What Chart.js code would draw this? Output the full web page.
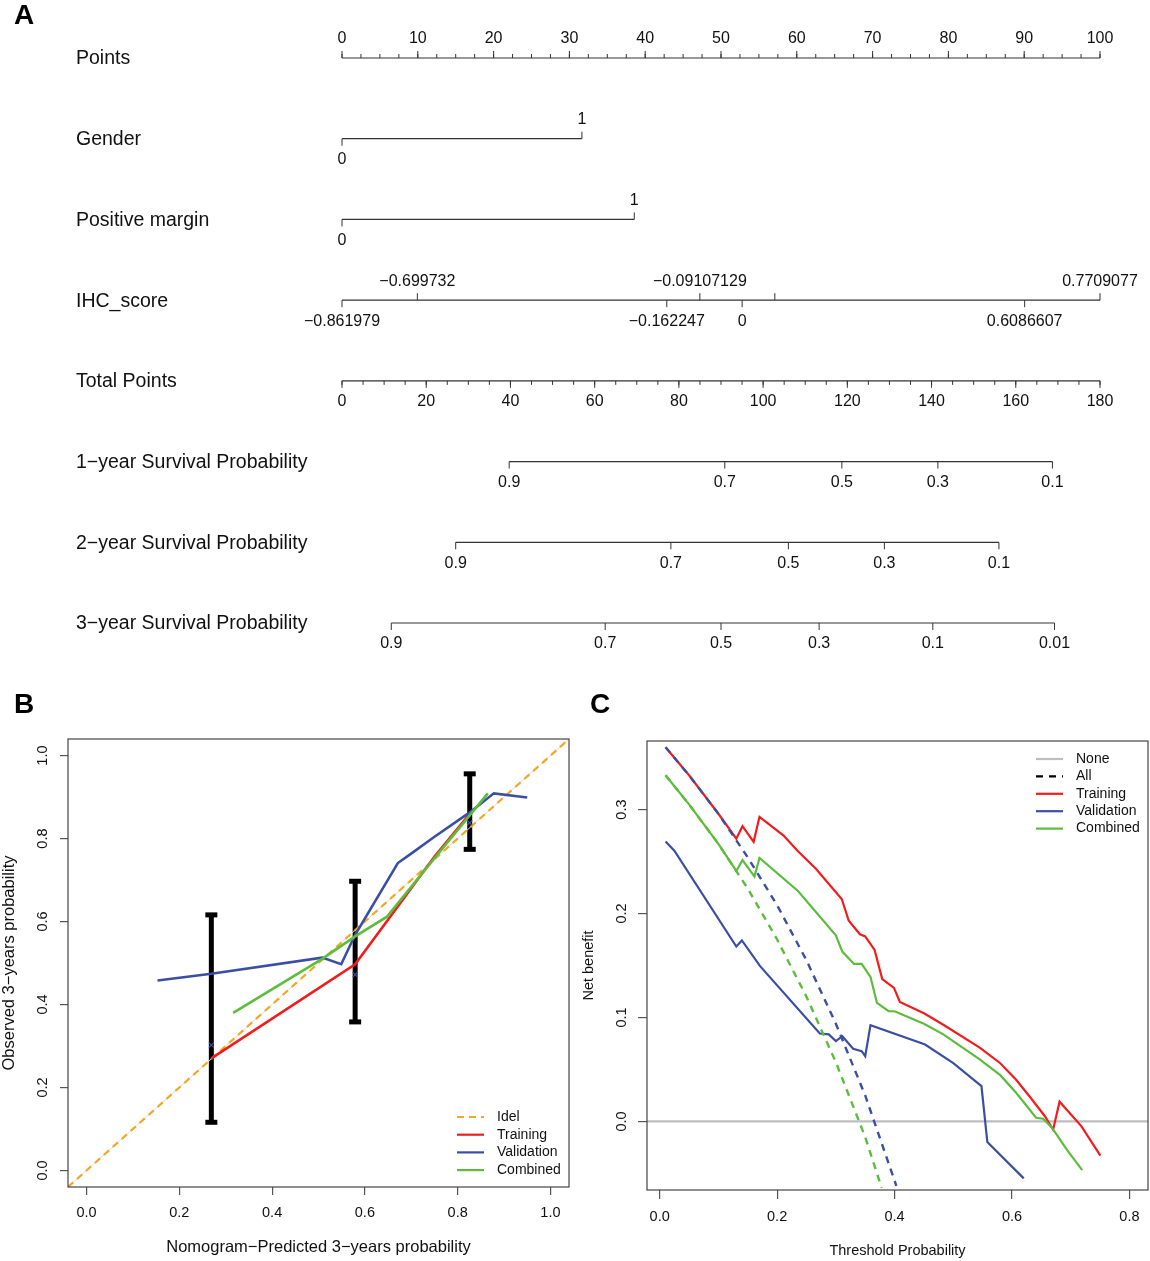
<!DOCTYPE html>
<html>
<head>
<meta charset="utf-8">
<script src="https://cdn.jsdelivr.net/npm/chart.js@4.4.1/dist/chart.umd.min.js"></script>
<style>
  body { margin: 0; background: #fff; }
  .panel { position: absolute; }
</style>
</head>
<body>
<div class="panel" style="left:0;top:0;width:1150px;height:680px"><canvas id="nomo"></canvas></div>
<div class="panel" style="left:0;top:690px;width:580px;height:571px"><canvas id="calib"></canvas></div>
<div class="panel" style="left:580px;top:690px;width:570px;height:571px"><canvas id="dca"></canvas></div>
<script>
const SANS = '"Liberation Sans", Arial, Helvetica, sans-serif';

// ---- panel A: nomogram ----
const rowNames = ['Points', 'Gender', 'Positive margin', 'IHC_score', 'Total Points',
  '1−year Survival Probability', '2−year Survival Probability', '3−year Survival Probability'];
const pointsTicks = [0, 10, 20, 30, 40, 50, 60, 70, 80, 90, 100];
const genderLabels = ['0', '1'];
const genderPoints = [0, 31.65];
const marginLabels = ['0', '1'];
const marginPoints = [0, 38.56];
const ihcLabels = ['−0.861979', '−0.699732', '−0.162247', '−0.09107129', '0', '', '0.6086607', '0.7709077'];
const ihcPoints = [0, 9.94, 42.85, 47.21, 52.79, 57.1, 90.06, 100];
const ihcSides = ['down', 'up', 'down', 'up', 'down', 'up', 'down', 'up'];
const totalTicks = [0, 20, 40, 60, 80, 100, 120, 140, 160, 180];
const surv1Labels = ['0.9', '0.7', '0.5', '0.3', '0.1'];
const surv1Total = [39.7, 90.9, 118.7, 141.5, 168.7];
const surv2Labels = ['0.9', '0.7', '0.5', '0.3', '0.1'];
const surv2Total = [27.0, 78.1, 106.0, 128.8, 156.0];
const surv3Labels = ['0.9', '0.7', '0.5', '0.3', '0.1', '0.01'];
const surv3Total = [11.7, 62.5, 90.0, 113.3, 140.3, 169.2];

// ---- panel B: calibration ----
const calibTicks = [0, 0.2, 0.4, 0.6, 0.8, 1.0];
const idealX = [-0.04, 1.04];
const trainPredB = [0.269, 0.579, 0.655, 0.751, 0.830];
const trainObsB = [0.270, 0.497, 0.612, 0.758, 0.865];
const validPredB = [0.153, 0.269, 0.508, 0.549, 0.579, 0.671, 0.699, 0.747, 0.826, 0.878, 0.950];
const validObsB = [0.458, 0.474, 0.513, 0.497, 0.568, 0.741, 0.763, 0.802, 0.863, 0.909, 0.899];
const combPredB = [0.316, 0.508, 0.579, 0.647, 0.751, 0.865];
const combObsB = [0.380, 0.510, 0.564, 0.611, 0.754, 0.909];
const errX = [0.269, 0.579, 0.826];
const errLow = [0.116, 0.358, 0.774];
const errHigh = [0.616, 0.697, 0.956];
const errMid = [0.302, 0.472, 0.838];

// ---- panel C: decision curves ----
const dcaXTicks = [0, 0.2, 0.4, 0.6, 0.8];
const dcaYTicks = [0, 0.1, 0.2, 0.3];
const noneY = [0, 0];
const trainThr = [0.01, 0.05, 0.10, 0.1305, 0.141, 0.160, 0.170, 0.211, 0.2355, 0.266, 0.310, 0.322, 0.341,
  0.350, 0.366, 0.379, 0.399, 0.409, 0.45, 0.483, 0.545, 0.58, 0.607, 0.63, 0.656, 0.670, 0.681, 0.718, 0.7505];
const trainNB = [0.360, 0.333, 0.296, 0.272, 0.284, 0.269, 0.293, 0.275, 0.260, 0.243, 0.214, 0.193, 0.180,
  0.178, 0.165, 0.137, 0.1285, 0.115, 0.104, 0.093, 0.071, 0.056, 0.040, 0.024, 0.005, -0.008, 0.019, -0.0045, -0.033];
const validThr = [0.01, 0.025, 0.1305, 0.140, 0.171, 0.2727, 0.288, 0.300, 0.311, 0.3295, 0.344, 0.350, 0.359,
  0.452, 0.50, 0.548, 0.558, 0.620];
const validNB = [0.2693, 0.2605, 0.1683, 0.1741, 0.1494, 0.0846, 0.0837, 0.0772, 0.082, 0.0699, 0.0676, 0.0628, 0.0926,
  0.074, 0.056, 0.034, -0.0199, -0.0548];
const combThr = [0.01, 0.05, 0.10, 0.1305, 0.141, 0.1614, 0.170, 0.2355, 0.300, 0.311, 0.331, 0.344, 0.359, 0.370,
  0.390, 0.400, 0.45, 0.483, 0.545, 0.58, 0.607, 0.641, 0.653, 0.668, 0.693, 0.7196];
const combNB = [0.333, 0.305, 0.267, 0.241, 0.2515, 0.2356, 0.2534, 0.2217, 0.179, 0.1634, 0.1515, 0.1515, 0.139, 0.114,
  0.106, 0.106, 0.094, 0.0837, 0.0596, 0.0445, 0.0276, 0.0035, 0.0026, -0.006, -0.027, -0.0468];
const allValidThr = [0.01, 0.05, 0.10, 0.15, 0.20, 0.25, 0.30, 0.35, 0.40, 0.403];
const allValidNB = [0.360, 0.333, 0.296, 0.254, 0.208, 0.155, 0.094, 0.025, -0.057, -0.062];
const allCombThr = [0.01, 0.05, 0.10, 0.15, 0.20, 0.25, 0.30, 0.35, 0.378];
const allCombNB = [0.333, 0.305, 0.267, 0.224, 0.175, 0.120, 0.057, -0.015, -0.064];

const RED = '#f21c1c', BLUE = '#3a4fa3', GREEN = '#5cbd3c', ORANGE = '#f5a623', GREY = '#bebebe';

const pts = (xs, ys) => xs.map((x, i) => ({ x, y: ys[i] }));

// nomogram rows: which x scale, tick values, labels and label side
const nomoRows = [
  { axis: 'x', vals: pointsTicks, labels: pointsTicks.map(String), sides: pointsTicks.map(() => 'up'), minor: 2.5 },
  { axis: 'x', vals: genderPoints, labels: genderLabels, sides: ['down', 'up'] },
  { axis: 'x', vals: marginPoints, labels: marginLabels, sides: ['down', 'up'] },
  { axis: 'x', vals: ihcPoints, labels: ihcLabels, sides: ihcSides },
  { axis: 'xt', vals: totalTicks, labels: totalTicks.map(String), sides: totalTicks.map(() => 'down'), minor: 5 },
  { axis: 'xt', vals: surv1Total, labels: surv1Labels, sides: surv1Total.map(() => 'down') },
  { axis: 'xt', vals: surv2Total, labels: surv2Labels, sides: surv2Total.map(() => 'down') },
  { axis: 'xt', vals: surv3Total, labels: surv3Labels, sides: surv3Total.map(() => 'down') }
];

function seg(ctx, x1, y1, x2, y2) {
  ctx.beginPath(); ctx.moveTo(x1, y1); ctx.lineTo(x2, y2); ctx.stroke();
}

const nomoPlugin = {
  id: 'nomo',
  afterDatasetsDraw(chart) {
    const ctx = chart.ctx;
    const ys = chart.scales.y;
    ctx.save();
    ctx.fillStyle = '#000';
    ctx.font = 'bold 28px ' + SANS;
    ctx.textAlign = 'center';
    ctx.textBaseline = 'middle';
    ctx.fillText('A', 24, 16);
    ctx.strokeStyle = '#333';
    ctx.lineWidth = 1;
    nomoRows.forEach((row, i) => {
      const y = ys.getPixelForValue(i);
      const xs = chart.scales[row.axis];
      ctx.fillStyle = '#111';
      ctx.font = '19.5px ' + SANS;
      ctx.textAlign = 'left';
      ctx.fillText(rowNames[i], 76, y + 1);
      if (row.minor) {
        const dir = row.sides[0] === 'up' ? -1 : 1;
        const last = row.vals[row.vals.length - 1];
        for (let v = row.vals[0]; v <= last + 1e-9; v += row.minor) {
          const px = xs.getPixelForValue(v);
          seg(ctx, px, y, px, y + dir * 4);
        }
      }
      ctx.font = '16px ' + SANS;
      ctx.textAlign = 'center';
      row.vals.forEach((v, k) => {
        const px = xs.getPixelForValue(v);
        const dir = row.sides[k] === 'up' ? -1 : 1;
        seg(ctx, px, y, px, y + dir * 7);
        ctx.fillText(row.labels[k], px, dir < 0 ? y - 19 : y + 21);
      });
    });
    ctx.restore();
  }
};

new Chart(document.getElementById('nomo'), {
  type: 'scatter',
  data: {
    datasets: nomoRows.map((row, i) => ({
      label: rowNames[i],
      xAxisID: row.axis,
      data: [{ x: row.vals[0], y: i }, { x: row.vals[row.vals.length - 1], y: i }],
      showLine: true,
      borderColor: '#333',
      borderWidth: 1.2,
      pointRadius: 0,
      clip: false
    }))
  },
  options: {
    responsive: true,
    maintainAspectRatio: false,
    animation: false,
    layout: { padding: { left: 342, right: 50, top: 58, bottom: 57 } },
    plugins: { legend: { display: false }, tooltip: { enabled: false } },
    scales: {
      x: { type: 'linear', position: 'bottom', min: 0, max: 100, display: false },
      xt: { type: 'linear', axis: 'x', position: 'bottom', min: 0, max: 180, display: false },
      y: { type: 'linear', min: 0, max: 7, reverse: true, display: false }
    }
  },
  plugins: [nomoPlugin]
});

// frame, rotated y labels, legend and panel letter in R base-graphics style
const framePlugin = {
  id: 'rframe',
  afterDraw(chart, args, opts) {
    const ctx = chart.ctx;
    const a = chart.chartArea;
    const ys = chart.scales.y;
    ctx.save();
    ctx.strokeStyle = '#444';
    ctx.lineWidth = 1.2;
    ctx.strokeRect(a.left, a.top, a.right - a.left, a.bottom - a.top);
    ctx.fillStyle = '#111';
    ctx.font = opts.tickFont + 'px ' + SANS;
    ctx.textAlign = 'center';
    ctx.textBaseline = 'middle';
    ys.ticks.forEach(t => {
      ctx.save();
      ctx.translate(opts.yLabelX, ys.getPixelForValue(t.value));
      ctx.rotate(-Math.PI / 2);
      ctx.fillText(t.value.toFixed(1), 0, 0);
      ctx.restore();
    });
    ctx.font = opts.legendFont + 'px ' + SANS;
    ctx.textAlign = 'left';
    opts.legend.forEach((it, k) => {
      const y = opts.legendY + k * opts.legendDy;
      ctx.strokeStyle = it.color;
      ctx.lineWidth = 2.2;
      ctx.setLineDash(it.dash || []);
      seg(ctx, opts.legendX, y, opts.legendX + opts.legendLine, y);
      ctx.setLineDash([]);
      ctx.fillText(it.text, opts.legendText, y);
    });
    ctx.fillStyle = '#000';
    ctx.font = 'bold 28px ' + SANS;
    ctx.textAlign = 'center';
    ctx.fillText(opts.letter, opts.letterX, 15);
    ctx.restore();
  }
};

function rAxis(ticks, min, max, extra) {
  return Object.assign({
    type: 'linear', min, max,
    afterBuildTicks: s => { s.ticks = ticks.map(v => ({ value: v })); },
    grid: { drawOnChartArea: false, drawTicks: true, tickLength: 8, color: '#555', lineWidth: 1.2 },
    border: { display: false }
  }, extra);
}

// ---- panel B ----
const errSets = errX.map((x, i) => ({
  label: '_err' + i,
  data: [{ x, y: errLow[i] }, { x, y: errHigh[i] }],
  showLine: true,
  borderColor: '#000',
  borderWidth: 5,
  pointStyle: 'line',
  pointRadius: 6,
  pointBorderWidth: 5,
  pointBorderColor: '#000',
  order: 10
}));

new Chart(document.getElementById('calib'), {
  type: 'scatter',
  data: {
    datasets: errSets.concat([
      { label: '_diag', data: pts(idealX, idealX), showLine: true, borderColor: '#dddddd', borderWidth: 1, pointRadius: 0, order: 9 },
      { label: 'Idel', data: pts(idealX, idealX), showLine: true, borderColor: ORANGE, borderWidth: 2.2, borderDash: [7, 5], pointRadius: 0, order: 8 },
      { label: '_mid', data: pts(errX, errMid), pointStyle: 'crossRot', pointRadius: 3.5, borderColor: BLUE, borderWidth: 1.2, order: 7 },
      { label: 'Training', data: pts(trainPredB, trainObsB), showLine: true, borderColor: RED, borderWidth: 2.6, pointRadius: 0, order: 4 },
      { label: 'Validation', data: pts(validPredB, validObsB), showLine: true, borderColor: BLUE, borderWidth: 2.6, pointRadius: 0, order: 3 },
      { label: 'Combined', data: pts(combPredB, combObsB), showLine: true, borderColor: GREEN, borderWidth: 2.6, pointRadius: 0, order: 2 }
    ])
  },
  options: {
    responsive: true,
    maintainAspectRatio: false,
    animation: false,
    layout: { padding: { left: 0, right: 10, top: 49, bottom: 0 } },
    plugins: {
      legend: { display: false },
      tooltip: { enabled: false },
      rframe: {
        letter: 'B', letterX: 24, yLabelX: 43, tickFont: 14.5, legendFont: 14,
        legendX: 457, legendLine: 27, legendText: 497, legendY: 427, legendDy: 17.7,
        legend: [
          { text: 'Idel', color: ORANGE, dash: [7, 5] },
          { text: 'Training', color: RED },
          { text: 'Validation', color: BLUE },
          { text: 'Combined', color: GREEN }
        ]
      }
    },
    scales: {
      x: rAxis(calibTicks, -0.04, 1.04, {
        afterFit: s => { s.height = 74; },
        ticks: { padding: 9, autoSkip: false, maxRotation: 0, color: '#111', font: { family: SANS, size: 14.5 }, callback: v => v.toFixed(1) },
        title: { display: true, text: 'Nomogram−Predicted 3−years probability', color: '#111', font: { family: SANS, size: 16.5 }, padding: { top: 0, bottom: 4 } }
      }),
      y: rAxis(calibTicks, -0.04, 1.04, {
        afterFit: s => { s.width = 68; },
        ticks: { display: false },
        title: { display: true, text: 'Observed 3−years probability', color: '#111', font: { family: SANS, size: 16.5 }, padding: { top: 0, bottom: 0 } }
      })
    }
  },
  plugins: [framePlugin]
});

// ---- panel C ----
const dcaXMin = -0.0216, dcaXMax = 0.8316;

new Chart(document.getElementById('dca'), {
  type: 'scatter',
  data: {
    datasets: [
      { label: 'None', data: pts([dcaXMin, dcaXMax], noneY), showLine: true, borderColor: GREY, borderWidth: 2.4, pointRadius: 0, order: 9 },
      { label: 'Training', data: pts(trainThr, trainNB), showLine: true, borderColor: RED, borderWidth: 2.2, pointRadius: 0, order: 6 },
      { label: 'Combined', data: pts(combThr, combNB), showLine: true, borderColor: GREEN, borderWidth: 2.2, pointRadius: 0, order: 5 },
      { label: 'Validation', data: pts(validThr, validNB), showLine: true, borderColor: BLUE, borderWidth: 2.2, pointRadius: 0, order: 4 },
      { label: 'All combined', data: pts(allCombThr, allCombNB), showLine: true, borderColor: GREEN, borderWidth: 2.4, borderDash: [7, 6], pointRadius: 0, order: 3 },
      { label: 'All validation', data: pts(allValidThr, allValidNB), showLine: true, borderColor: BLUE, borderWidth: 2.4, borderDash: [7, 6], pointRadius: 0, order: 2 }
    ]
  },
  options: {
    responsive: true,
    maintainAspectRatio: false,
    animation: false,
    layout: { padding: { left: 0, right: 2, top: 51, bottom: 0 } },
    plugins: {
      legend: { display: false },
      tooltip: { enabled: false },
      rframe: {
        letter: 'C', letterX: 20, yLabelX: 42, tickFont: 14.5, legendFont: 14,
        legendX: 456, legendLine: 27, legendText: 496, legendY: 69, legendDy: 17.4,
        legend: [
          { text: 'None', color: GREY },
          { text: 'All', color: '#000', dash: [7, 6] },
          { text: 'Training', color: RED },
          { text: 'Validation', color: BLUE },
          { text: 'Combined', color: GREEN }
        ]
      }
    },
    scales: {
      x: rAxis(dcaXTicks, dcaXMin, dcaXMax, {
        afterFit: s => { s.height = 71; },
        grid: { drawOnChartArea: false, drawTicks: true, tickLength: 9, color: '#555', lineWidth: 1.2 },
        ticks: { padding: 9, autoSkip: false, maxRotation: 0, color: '#111', font: { family: SANS, size: 14.5 }, callback: v => v.toFixed(1) },
        title: { display: true, text: 'Threshold Probability', color: '#111', font: { family: SANS, size: 14.5 }, padding: { top: 0, bottom: 1 } }
      }),
      y: rAxis(dcaYTicks, -0.066, 0.366, {
        afterFit: s => { s.width = 67; },
        grid: { drawOnChartArea: false, drawTicks: true, tickLength: 9, color: '#555', lineWidth: 1.2 },
        ticks: { display: false },
        title: { display: true, text: 'Net benefit', color: '#111', font: { family: SANS, size: 14.5 }, padding: { top: 0, bottom: 0 } }
      })
    }
  },
  plugins: [framePlugin]
});
</script>
</body>
</html>
